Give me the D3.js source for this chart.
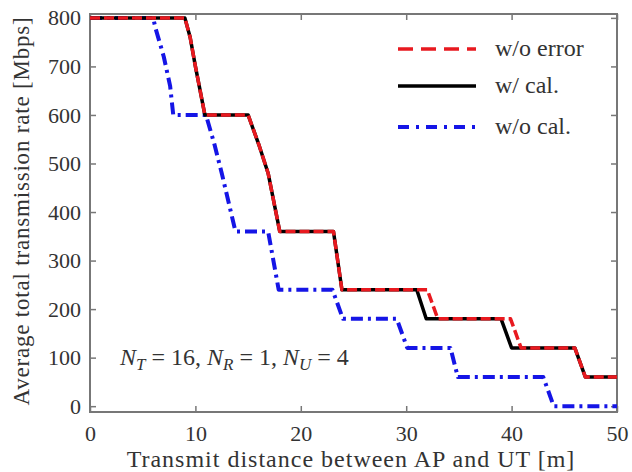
<!DOCTYPE html>
<html>
<head>
<meta charset="utf-8">
<script src="https://cdn.jsdelivr.net/npm/d3@7"></script>
<style>
  body { margin: 0; background: #fff; }
</style>
</head>
<body>
<div id="chart"></div>
<script>
// distance [m] / rate [Mbps]
const errFreeX = [0, 9.0, 9.5, 10.0, 10.9, 15.0, 16.0, 16.9, 18.0, 23.1, 23.9, 32.0, 33.0, 39.9, 40.9, 46.0, 47.0, 50];
const errFreeY = [800, 800, 760, 700, 600, 600, 540, 480, 360, 360, 240, 240, 180, 180, 120, 120, 60, 60];
const calX = [0, 9.0, 9.5, 10.0, 10.9, 15.0, 16.0, 16.9, 18.0, 23.1, 23.9, 31.0, 31.9, 39.0, 40.0, 46.0, 47.0, 50];
const calY = [800, 800, 760, 700, 600, 600, 540, 480, 360, 360, 240, 240, 180, 180, 120, 120, 60, 60];
const noCalX = [0, 6.0, 6.2, 7.0, 7.6, 7.9, 11.0, 11.8, 12.5, 13.8, 16.9, 17.4, 17.9, 23.0, 24.0, 29.1, 30.1, 34.2, 34.9, 43.0, 44.0, 50];
const noCalY = [800, 800, 780, 720, 660, 600, 600, 540, 480, 360, 360, 300, 240, 240, 180, 180, 120, 120, 60, 60, 0, 0];

const xTicks = [0, 10, 20, 30, 40, 50];
const yTicks = [0, 100, 200, 300, 400, 500, 600, 700, 800];
const seriesNames = ["w/o error", "w/ cal.", "w/o cal."];

const W = 632, H = 472;
const margin = { top: 14, right: 15, bottom: 60, left: 90 };
const plotW = W - margin.left - margin.right;
const plotH = H - margin.top - margin.bottom;
const serif = "Liberation Serif";
const textColor = "#333";

const svg = d3.select("#chart").append("svg")
  .attr("width", W).attr("height", H)
  .attr("font-family", serif);

const xScale = d3.scaleLinear().domain([0, 50]).range([0, plotW]);
const yScale = d3.scaleLinear().domain([-12, 808]).range([plotH, 0]);

const g = svg.append("g")
  .attr("transform", `translate(${margin.left},${margin.top})`);

// axes (ticks pointing inward, mirrored on top/right)
const axisColor = "#777";
function styleAxis(sel) {
  sel.attr("font-family", serif).attr("font-size", 22);
  sel.select(".domain").remove();
  sel.selectAll("line").attr("stroke", axisColor).attr("stroke-width", 1.5);
  sel.selectAll("text").attr("fill", textColor);
}
g.append("g").attr("transform", `translate(0,${plotH})`)
  .call(d3.axisBottom(xScale).tickValues(xTicks).tickSizeInner(-6).tickSizeOuter(0).tickPadding(13))
  .call(styleAxis);
g.append("g")
  .call(d3.axisLeft(yScale).tickValues(yTicks).tickSizeInner(-6).tickSizeOuter(0).tickPadding(9))
  .call(styleAxis);
g.append("g")
  .call(d3.axisTop(xScale).tickValues(xTicks).tickSizeInner(-6).tickSizeOuter(0).tickFormat(""))
  .call(styleAxis);
g.append("g").attr("transform", `translate(${plotW},0)`)
  .call(d3.axisRight(yScale).tickValues(yTicks).tickSizeInner(-6).tickSizeOuter(0).tickFormat(""))
  .call(styleAxis);

g.append("rect")
  .attr("width", plotW).attr("height", plotH)
  .attr("fill", "none").attr("stroke", axisColor).attr("stroke-width", 2);

svg.append("clipPath").attr("id", "clip")
  .append("rect").attr("width", plotW).attr("height", plotH);

const line = d3.line().x(d => xScale(d[0])).y(d => yScale(d[1]));
const zip = (xs, ys) => xs.map((x, i) => [x, ys[i]]);

const series = [
  { name: seriesNames[0], pts: zip(errFreeX, errFreeY), color: "#e8191f", width: 3.5, dash: "10,4", legDash: "15,8" },
  { name: seriesNames[1], pts: zip(calX, calY), color: "#000", width: 3.5, dash: null, legDash: null },
  { name: seriesNames[2], pts: zip(noCalX, noCalY), color: "#1515e6", width: 4, dash: "12,5,3,5", legDash: "11,7,3,7" }
];

// draw blue first, then black, then red dashes on top
const lines = g.append("g").attr("clip-path", "url(#clip)");
[series[2], series[1], series[0]].forEach(s => {
  lines.append("path")
    .attr("d", line(s.pts))
    .attr("fill", "none")
    .attr("stroke", s.color)
    .attr("stroke-width", s.width)
    .attr("stroke-dasharray", s.dash)
    .attr("stroke-linejoin", "round");
});

// legend
const legend = g.append("g").attr("transform", `translate(${398 - margin.left},${49 - margin.top})`);
series.forEach((s, i) => {
  const y = [0, 37, 78][i];
  legend.append("line")
    .attr("x1", 0).attr("x2", 78).attr("y1", y).attr("y2", y)
    .attr("stroke", s.color).attr("stroke-width", s.width)
    .attr("stroke-dasharray", s.legDash);
  legend.append("text")
    .attr("x", 97).attr("y", y + 7)
    .attr("font-family", serif)
    .attr("font-size", 24)
    .attr("fill", textColor)
    .text(s.name);
});

// annotation
const ann = g.append("text")
  .attr("x", 120 - margin.left).attr("y", 365 - margin.top)
  .attr("font-family", serif)
  .attr("font-size", 24)
  .attr("fill", textColor);
const parts = [["N", "T", " = 16, "], ["N", "R", " = 1, "], ["N", "U", " = 4"]];
parts.forEach(p => {
  ann.append("tspan").attr("font-style", "italic").text(p[0]);
  ann.append("tspan").attr("font-style", "italic").attr("font-size", 17).attr("dy", 5).text(p[1]);
  ann.append("tspan").attr("dy", -5).text(p[2]);
});

// axis titles
svg.append("text")
  .attr("x", 351).attr("y", 467)
  .attr("text-anchor", "middle")
  .attr("font-family", serif)
  .attr("font-size", 24)
  .attr("letter-spacing", 1)
  .attr("fill", textColor)
  .text("Transmit distance between AP and UT [m]");

svg.append("text")
  .attr("transform", `translate(29,211) rotate(-90)`)
  .attr("text-anchor", "middle")
  .attr("font-family", serif)
  .attr("font-size", 23)
  .attr("letter-spacing", 0.8)
  .attr("fill", textColor)
  .text("Average total transmission rate [Mbps]");
</script>
</body>
</html>
